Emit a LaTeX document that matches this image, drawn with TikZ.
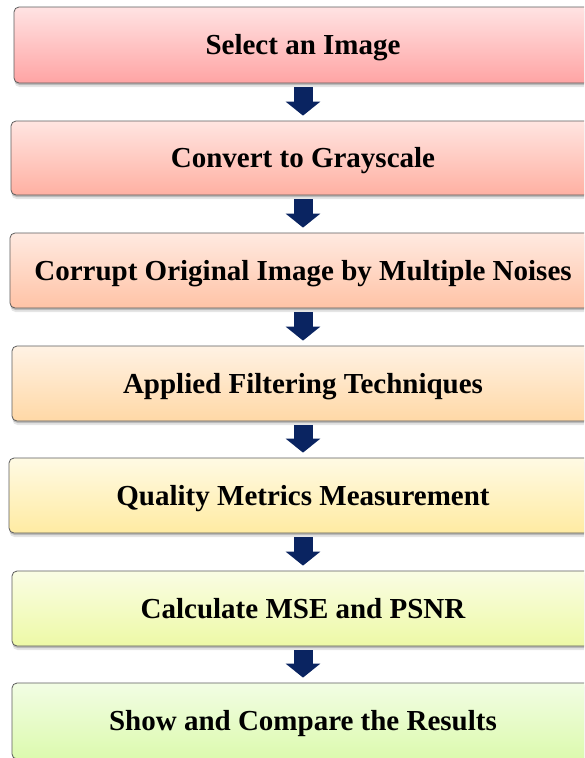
\documentclass[tikz,border=0pt]{standalone}
\usepackage{fontspec}
\setmainfont{Liberation Serif}
\usetikzlibrary{arrows.meta,shadows}
\definecolor{c1t}{HTML}{FFE3E3}\definecolor{c1b}{HTML}{FFA4A4}
\definecolor{c2t}{HTML}{FFE5E1}\definecolor{c2b}{HTML}{FFB0A2}
\definecolor{c3t}{HTML}{FFEAE1}\definecolor{c3b}{HTML}{FFC3A6}
\definecolor{c4t}{HTML}{FFF2E4}\definecolor{c4b}{HTML}{FFD8A6}
\definecolor{c5t}{HTML}{FFFAE4}\definecolor{c5b}{HTML}{FFEBA2}
\definecolor{c6t}{HTML}{FAFDE4}\definecolor{c6b}{HTML}{EDF9A6}
\definecolor{c7t}{HTML}{F2FDE4}\definecolor{c7b}{HTML}{DCFAAE}
\definecolor{arrowblue}{HTML}{0A2461}
\definecolor{edgegray}{HTML}{5C5C5C}
\tikzset{
  stepbox/.style={rectangle, rounded corners=5pt, draw=edgegray, line width=0.8pt,
    text height=19.2pt, text depth=0pt, inner sep=2pt,
    font=\fontsize{29pt}{34pt}\selectfont\bfseries, text=black,
    drop shadow={shadow xshift=0.5pt, shadow yshift=-2pt, opacity=0.18, fill=black},
    drop shadow={shadow xshift=0.5pt, shadow yshift=-4pt, opacity=0.10, fill=black}},
  flowarrow/.style={draw=arrowblue, line width=19pt,
    -{Triangle[width=34pt,length=14pt]}}
}
\begin{document}
\begin{tikzpicture}[x=1pt,y=-1pt]
\useasboundingbox (0,0) rectangle (584,758);
\clip (0,0) rectangle (584,758);
\fill[white] (0,0) rectangle (584,758);
\node[stepbox, top color=c1t, bottom color=c1b, minimum width=578pt, minimum height=76pt] (b1) at (303,45) {Select an Image};
\node[stepbox, top color=c2t, bottom color=c2b, minimum width=584pt, minimum height=74pt] (b2) at (303,158) {Convert to Grayscale};
\node[stepbox, top color=c3t, bottom color=c3b, minimum width=586pt, minimum height=75pt] (b3) at (303,270.5) {Corrupt Original Image by Multiple Noises};
\node[stepbox, top color=c4t, bottom color=c4b, minimum width=582pt, minimum height=75pt] (b4) at (303,383.5) {Applied Filtering Techniques};
\node[stepbox, top color=c5t, bottom color=c5b, minimum width=588pt, minimum height=75pt] (b5) at (303,495.5) {Quality Metrics Measurement};
\node[stepbox, top color=c6t, bottom color=c6b, minimum width=582pt, minimum height=75pt] (b6) at (303,608.5) {Calculate MSE and PSNR};
\node[stepbox, top color=c7t, bottom color=c7b, minimum width=582pt, minimum height=76pt] (b7) at (303,721) {Show and Compare the Results};
\foreach \a/\b in {b1/b2,b2/b3,b3/b4,b4/b5,b5/b6,b6/b7}
  \draw[flowarrow] ([yshift=-4pt]\a.south) -- ([yshift=5pt]\b.north);
\end{tikzpicture}
\end{document}
